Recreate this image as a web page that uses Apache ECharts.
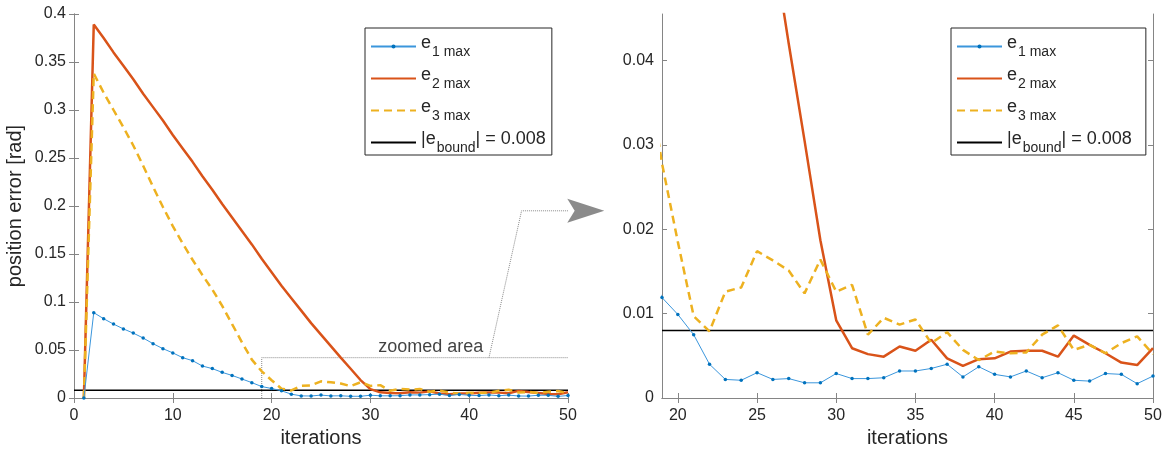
<!DOCTYPE html>
<html>
<head>
<meta charset="UTF-8">
<title>position error</title>
<style>
  html, body { margin: 0; padding: 0; background: #fff; }
  #chart { width: 1166px; height: 457px; }
</style>
</head>
<body>
<div id="chart"></div>
<script src="https://cdn.jsdelivr.net/npm/echarts@6/dist/echarts.min.js"></script>
<script>
    var iterations = [1, 2, 3, 4, 5, 6, 7, 8, 9, 10, 11, 12, 13, 14, 15, 16, 17, 18, 19, 20,
        21, 22, 23, 24, 25, 26, 27, 28, 29, 30, 31, 32, 33, 34, 35, 36, 37, 38, 39, 40,
        41, 42, 43, 44, 45, 46, 47, 48, 49, 50];
    var e1Max = [0, 0.0889, 0.0826, 0.0770, 0.0720, 0.0676, 0.0625, 0.0566, 0.0514, 0.0470,
        0.0420, 0.0389, 0.0333, 0.0306, 0.0267, 0.0235, 0.0198, 0.0160, 0.0119, 0.0099,
        0.0075, 0.0040, 0.0022, 0.0021, 0.0030, 0.0022, 0.0023, 0.0018, 0.0018, 0.0029,
        0.0023, 0.0023, 0.0024, 0.0032, 0.0032, 0.0035, 0.0040, 0.0025, 0.0037, 0.0028,
        0.0025, 0.0032, 0.0024, 0.0030, 0.0021, 0.0020, 0.0029, 0.0028, 0.0017, 0.0026];
    var e2Max = [0, 0.389, 0.375, 0.360, 0.346, 0.332, 0.317, 0.303, 0.289, 0.274,
        0.260, 0.246, 0.231, 0.217, 0.202, 0.188, 0.174, 0.160, 0.145, 0.131,
        0.117, 0.104, 0.091, 0.078, 0.066, 0.054, 0.042, 0.0305, 0.0187, 0.0092,
        0.0059, 0.0052, 0.0049, 0.0061, 0.0056, 0.0069, 0.0047, 0.0038, 0.0046, 0.0047,
        0.0055, 0.0056, 0.0056, 0.0049, 0.0074, 0.0063, 0.0053, 0.0042, 0.0039, 0.0059];
    var e3Max = [0, 0.338, 0.318, 0.300, 0.282, 0.263, 0.242, 0.220, 0.199, 0.179,
        0.161, 0.144, 0.128, 0.113, 0.096, 0.077, 0.058, 0.040, 0.0278, 0.0185,
        0.0097, 0.0079, 0.0126, 0.0131, 0.0174, 0.0163, 0.0151, 0.0124, 0.0164, 0.0126,
        0.0134, 0.0075, 0.0095, 0.0087, 0.0093, 0.0065, 0.0078, 0.0057, 0.0045, 0.0055,
        0.0053, 0.0054, 0.0075, 0.0086, 0.0057, 0.0063, 0.0053, 0.0065, 0.0073, 0.0052];
    var eBound = 0.008;

    // zoomed window drawn in the left plot: [x from, x to, y top]
    var zoomBox = [19, 50, 0.042];
    var zoomLink = [[42, 0.042], [45.3, 0.195], [50, 0.195]];
    var arrowAt = [51.8, 0.195];
    var zoomLabelAt = [36.1, 0.0534];

    var font = "'Liberation Sans', Arial, Helvetica, sans-serif";
    var ink = '#262626';
    var axisGray = '#858585';

    function pairs(vals) {
        return iterations.map(function (x, i) { return [x, vals[i]]; });
    }

    var legendText = {
        'e1': '{m|e}{s|1 max}',
        'e2': '{m|e}{s|2 max}',
        'e3': '{m|e}{s|3 max}',
        'bound': '{m||e}{s|bound}{m|| = 0.008}'
    };

    function makeLegend(left, top, padRight) {
        return {
            orient: 'vertical',
            left: left,
            top: top,
            data: [
                {name: 'e1'},
                {name: 'e2', itemStyle: {opacity: 0}},
                {name: 'e3', itemStyle: {opacity: 0}},
                {name: 'bound', itemStyle: {opacity: 0}}
            ],
            itemWidth: 45,
            itemHeight: 5,
            itemGap: 7,
            padding: [6, padRight, 0, 5],
            borderColor: ink,
            borderWidth: 1,
            backgroundColor: '#fff',
            selectedMode: false,
            formatter: function (name) { return legendText[name]; },
            textStyle: {
                fontFamily: font, fontSize: 18, color: ink,
                rich: {
                    m: {fontFamily: font, fontSize: 18, color: ink, lineHeight: 20, verticalAlign: 'top'},
                    s: {fontFamily: font, fontSize: 14, color: ink, padding: [11, 0, 0, 1], verticalAlign: 'top'}
                }
            }
        };
    }

    function axisBase(extra) {
        var a = {
            type: 'value',
            axisLine: {show: true, lineStyle: {color: axisGray, width: 1}},
            axisTick: {show: true, inside: true, length: 5, lineStyle: {color: axisGray}},
            splitLine: {show: false},
            axisLabel: {fontFamily: font, fontSize: 16, color: ink, margin: 10},
            nameTextStyle: {fontFamily: font, fontSize: 20, color: ink}
        };
        for (var k in extra) a[k] = extra[k];
        return a;
    }

    function numFmt(v) { return String(+v.toFixed(4)); }

    var rightXTicks = [20, 25, 30, 35, 40, 45, 50];
    var rightYTicks = [0, 0.01, 0.02, 0.03, 0.04];

    var xAxes = [
        axisBase({gridIndex: 0, min: 0, max: 50, interval: 10, name: 'iterations',
            nameLocation: 'middle', nameGap: 28}),
        axisBase({gridIndex: 0, position: 'top', min: 0, max: 50, interval: 10,
            axisLabel: {show: false}}),
        axisBase({gridIndex: 1, min: 19, max: 50, name: 'iterations',
            nameLocation: 'middle', nameGap: 28,
            axisTick: {show: true, inside: true, length: 5, lineStyle: {color: axisGray}, customValues: rightXTicks},
            axisLabel: {fontFamily: font, fontSize: 16, color: ink, margin: 10, customValues: rightXTicks}}),
        axisBase({gridIndex: 1, position: 'top', min: 19, max: 50,
            axisTick: {show: true, inside: true, length: 5, lineStyle: {color: axisGray}, customValues: rightXTicks},
            axisLabel: {show: false}})
    ];
    var yAxes = [
        axisBase({gridIndex: 0, min: 0, max: 0.4, interval: 0.05, name: 'position error [rad]',
            nameLocation: 'middle', nameGap: 49,
            axisLabel: {fontFamily: font, fontSize: 16, color: ink, margin: 8, formatter: numFmt}}),
        axisBase({gridIndex: 0, position: 'right', min: 0, max: 0.4, interval: 0.05,
            axisLabel: {show: false}}),
        axisBase({gridIndex: 1, min: 0, max: 0.0455,
            axisTick: {show: true, inside: true, length: 5, lineStyle: {color: axisGray}, customValues: rightYTicks},
            axisLabel: {fontFamily: font, fontSize: 16, color: ink, margin: 8, formatter: numFmt, customValues: rightYTicks}}),
        axisBase({gridIndex: 1, position: 'right', min: 0, max: 0.0455,
            axisTick: {show: true, inside: true, length: 5, lineStyle: {color: axisGray}, customValues: rightYTicks},
            axisLabel: {show: false}})
    ];

    function errorSeries(xi, yi, boundFrom) {
        return [
            {
                name: 'e1', type: 'line', xAxisIndex: xi, yAxisIndex: yi, data: pairs(e1Max),
                symbol: 'circle', symbolSize: 3.5, showSymbol: true, z: 5,
                lineStyle: {color: '#3b96dc', width: 1},
                itemStyle: {color: '#0072BD'}
            },
            {
                name: 'e2', type: 'line', xAxisIndex: xi, yAxisIndex: yi, data: pairs(e2Max),
                symbol: 'none', z: 4,
                lineStyle: {color: '#D95319', width: 2.5},
                itemStyle: {color: '#D95319'}
            },
            {
                name: 'e3', type: 'line', xAxisIndex: xi, yAxisIndex: yi, data: pairs(e3Max),
                symbol: 'none', z: 4,
                lineStyle: {color: '#EDB120', width: 2.5, type: [8, 5]},
                itemStyle: {color: '#EDB120'}
            },
            {
                name: 'bound', type: 'line', xAxisIndex: xi, yAxisIndex: yi,
                data: [[boundFrom, eBound], [50, eBound]],
                symbol: 'none', z: 3,
                lineStyle: {color: '#000', width: 1.5},
                itemStyle: {color: '#000'}
            }
        ];
    }

    var series = errorSeries(0, 0, 0).concat(errorSeries(2, 2, 19));

    // zoomed area box and link to the right plot
    series.push({
        type: 'line', xAxisIndex: 0, yAxisIndex: 0, symbol: 'none', silent: true, z: 2,
        data: [[zoomBox[0], 0], [zoomBox[0], zoomBox[2]], [zoomBox[1], zoomBox[2]]],
        lineStyle: {color: '#8a8a8a', width: 1, type: 'dotted'}
    });
    series.push({
        type: 'line', xAxisIndex: 0, yAxisIndex: 0, symbol: 'none', silent: true, z: 2,
        clip: false,
        data: zoomLink,
        lineStyle: {color: '#8a8a8a', width: 1, type: 'dotted'}
    });
    series.push({
        type: 'scatter', xAxisIndex: 0, yAxisIndex: 0, silent: true, clip: false, z: 6,
        data: [arrowAt],
        symbol: 'path://M0,0 L40,13 L0,26 L8,13 Z',
        symbolSize: [37, 24],
        itemStyle: {color: '#6e6e6e'}
    });
    series.push({
        type: 'scatter', xAxisIndex: 0, yAxisIndex: 0, silent: true, z: 6,
        data: [zoomLabelAt],
        symbolSize: 0,
        label: {show: true, position: 'inside', formatter: 'zoomed area',
            fontFamily: font, fontSize: 18, color: '#111'}
    });

    var chart = echarts.init(document.getElementById('chart'));
    chart.setOption({
        animation: false,
        backgroundColor: '#fff',
        grid: [
            {left: 74, right: 598, top: 14, bottom: 59},
            {left: 662, right: 13, top: 14, bottom: 59}
        ],
        legend: [makeLegend(365, 28, 6), makeLegend(951, 28, 14)],
        xAxis: xAxes,
        yAxis: yAxes,
        series: series
    });
</script>
</body>
</html>
